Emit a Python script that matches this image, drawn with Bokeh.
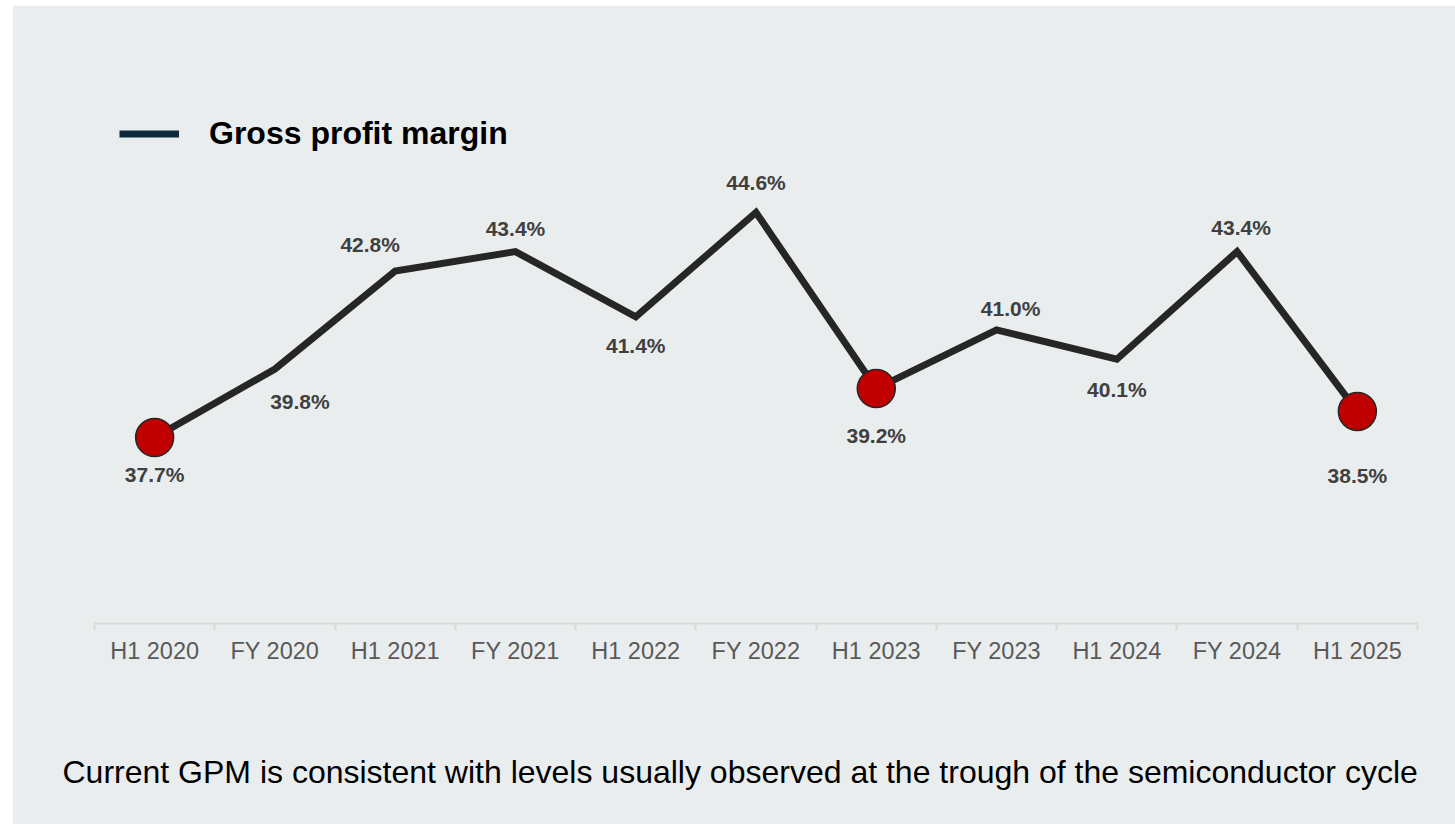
from bokeh.plotting import figure
from bokeh.models import (ColumnDataSource, Range1d, FactorRange, LinearAxis, CategoricalAxis,
                          FixedTicker, Legend, LegendItem, Title)
from bokeh.core.properties import value
from bokeh.embed import file_html
from bokeh.resources import INLINE

# ---- data ----
periods = ["H1 2020", "FY 2020", "H1 2021", "FY 2021", "H1 2022", "FY 2022",
           "H1 2023", "FY 2023", "H1 2024", "FY 2024", "H1 2025"]
gpm = [37.7, 39.8, 42.8, 43.4, 41.4, 44.6, 39.2, 41.0, 40.1, 43.4, 38.5]
highlighted = ["H1 2020", "H1 2023", "H1 2025"]
series_name = "Gross profit margin"
note = "Current GPM is consistent with levels usually observed at the trough of the semiconductor cycle"

# ---- label placement (style, pixels) ----
label_dx = [0, 25, -25, 0, 0, 0, 0, 14, 0, 4, 0]
label_dy = [37, 32, -27, -23, 29, -30, 47, -21, 30, -24, 64]

BG = "#EAEDEE"
FONT = "Liberation Sans"

src = ColumnDataSource(dict(period=periods, gpm=gpm,
                            label=[f"{v:.1f}%" for v in gpm],
                            dx=label_dx, dy=label_dy))
hi_idx = [periods.index(h) for h in highlighted]
hi_src = ColumnDataSource(dict(period=[periods[i] for i in hi_idx],
                               gpm=[gpm[i] for i in hi_idx]))

p = figure(x_range=FactorRange(*periods), y_range=Range1d(32, 48),
           width=1443, height=819, output_backend="svg", toolbar_location=None,
           x_axis_location=None, y_axis_location=None,
           min_border_left=82, min_border_right=38, min_border_top=96, min_border_bottom=201,
           background_fill_color=BG, border_fill_color=BG,
           outline_line_color=BG, outline_line_width=2)
p.styles = {"margin-left": "12px", "margin-top": "5px"}
p.grid.visible = False

# boundary ticks axis (category boundaries in synthetic coordinates)
n = len(periods)
tick_axis = LinearAxis(ticker=FixedTicker(ticks=list(range(n + 1))),
                       axis_line_color="#D9D9D9", axis_line_width=2,
                       major_tick_line_color="#D9D9D9", major_tick_line_width=2,
                       major_tick_in=0, major_tick_out=7,
                       minor_tick_line_color=None,
                       major_label_text_font_size="0px", major_label_standoff=0,
                       major_label_overrides={i: "" for i in range(n + 1)})
cat_axis = CategoricalAxis(axis_line_color=None, major_tick_line_color=None,
                           minor_tick_line_color=None,
                           major_label_text_font=FONT, major_label_text_font_size="23.5px",
                           major_label_text_color="#595959", major_label_standoff=1)
p.add_layout(tick_axis, "below")
p.add_layout(cat_axis, "below")

# series
p.line(x="period", y="gpm", source=src, line_color="#262626", line_width=7, line_join="miter")
p.scatter(x="period", y="gpm", source=hi_src, size=38, fill_color="#C00000",
          line_color="#262626", line_width=1.5)
p.text(x="period", y="gpm", text="label", source=src, x_offset="dx", y_offset="dy",
       text_align="center", text_baseline="middle",
       text_font=value(FONT), text_font_style="bold", text_font_size="21px",
       text_color="#404040")

# legend (swatch renderer draws nothing on the plot: its only y is NaN)
legend_r = p.line(x=[periods[0]], y=[float("nan")], line_color="#0D2A3A", line_width=7)
legend = Legend(items=[LegendItem(label=series_name, renderers=[legend_r])],
                location=(25, 471), orientation="horizontal",
                glyph_width=60, glyph_height=37, label_standoff=30, label_height=37,
                label_text_font=FONT, label_text_font_style="bold",
                label_text_font_size="32px", label_text_color="#000000",
                background_fill_alpha=0, border_line_color=None, padding=0, margin=0)
p.add_layout(legend)

# spacer between axis labels and the note, then the note itself
p.add_layout(Title(text=" ", text_font_size="1px", standoff=70), "below")
p.add_layout(Title(text=note, align="left", offset=-32, standoff=25,
                   text_font=FONT, text_font_style="normal", text_font_size="32px",
                   text_color="#000000"), "below")

open("out.html", "w").write(file_html(p, INLINE))
